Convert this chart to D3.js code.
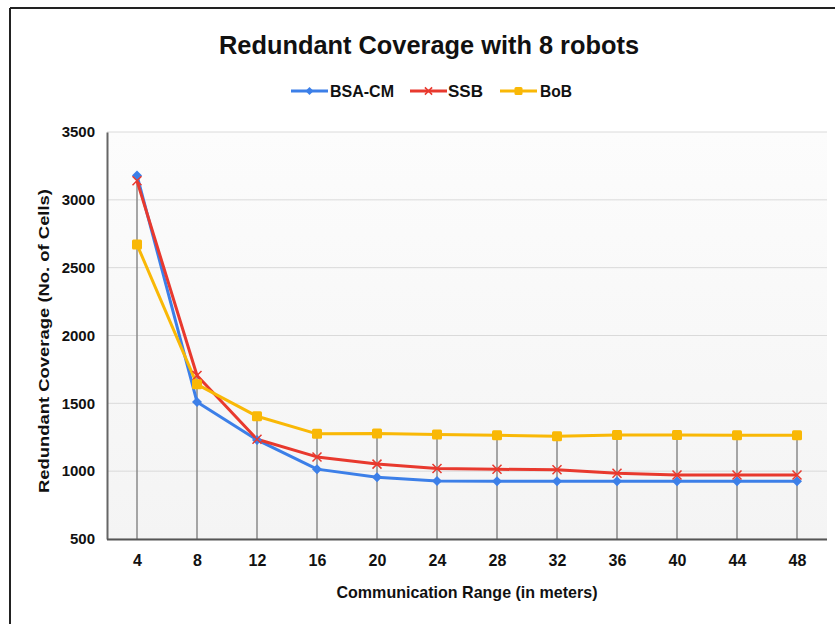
<!DOCTYPE html>
<html>
<head>
<meta charset="utf-8">
<script src="https://cdn.jsdelivr.net/npm/d3@7"></script>
<style>
  body { margin: 0; background: #ffffff; }
  svg { display: block; }
  text { font-family: "Liberation Sans", Arial, sans-serif; font-weight: bold; fill: #111; }
</style>
</head>
<body>
<svg id="chart" width="835" height="624"></svg>
<script>
const ranges = ["4","8","12","16","20","24","28","32","36","40","44","48"];
const bsaCm = [3180, 1510, 1230, 1015, 955, 928, 925, 925, 925, 925, 925, 925];
const ssb   = [3140, 1705, 1235, 1105, 1052, 1020, 1014, 1010, 985, 972, 972, 972];
const bob   = [2670, 1640, 1405, 1275, 1278, 1270, 1265, 1258, 1266, 1266, 1265, 1265];
const yTicks = [500, 1000, 1500, 2000, 2500, 3000, 3500];
const seriesNames = ["BSA-CM", "SSB", "BoB"];
const seriesColors = ["#3c7fe8", "#e8392e", "#f9b806"];

(function () {
const series = [
  {name: seriesNames[0], values: bsaCm, color: seriesColors[0], marker: "diamond"},
  {name: seriesNames[1], values: ssb, color: seriesColors[1], marker: "cross"},
  {name: seriesNames[2], values: bob, color: seriesColors[2], marker: "square"}
];

const svg = d3.select("#chart");
const W = 835, H = 624;
const pL = 107, pR = 827, pT = 132, pB = 539;

// frame
svg.append("rect").attr("x", 0).attr("y", 0).attr("width", W).attr("height", H).attr("fill", "#fff");
svg.append("line").attr("x1", 10).attr("x2", W).attr("y1", 8).attr("y2", 8).attr("stroke", "#222").attr("stroke-width", 2);
svg.append("line").attr("x1", 10).attr("x2", 10).attr("y1", 8).attr("y2", H).attr("stroke", "#222").attr("stroke-width", 2);

const defs = svg.append("defs");
const grad = defs.append("linearGradient").attr("id", "bg").attr("x1", "0").attr("y1", "0").attr("x2", "0").attr("y2", "1");
grad.append("stop").attr("offset", "0%").attr("stop-color", "#fcfcfc");
grad.append("stop").attr("offset", "100%").attr("stop-color", "#f4f4f4");

svg.append("rect").attr("x", pL).attr("y", pT).attr("width", pR - pL).attr("height", pB - pT).attr("fill", "url(#bg)");

const x = d3.scalePoint().domain(ranges).range([pL, pR]).padding(0.5);
const y = d3.scaleLinear().domain([500, 3500]).range([pB, pT]);

// gridlines
svg.append("g").selectAll("line").data(yTicks).join("line")
  .attr("x1", pL).attr("x2", pR)
  .attr("y1", d => y(d)).attr("y2", d => y(d))
  .attr("stroke", "#dadada").attr("stroke-width", 1);

// drop lines
svg.append("g").selectAll("line").data(ranges).join("line")
  .attr("x1", d => x(d)).attr("x2", d => x(d))
  .attr("y1", (d, i) => y(Math.max(bsaCm[i], ssb[i], bob[i])))
  .attr("y2", pB)
  .attr("stroke", "#8a8a8a").attr("stroke-width", 1.5);

// axes
const yAxis = svg.append("g").attr("transform", `translate(${pL},0)`)
  .call(d3.axisLeft(y).tickValues(yTicks).tickSize(0).tickPadding(12).tickFormat(d3.format("d")));
yAxis.select(".domain").attr("stroke", "#666").attr("stroke-width", 2);
yAxis.selectAll("text").attr("font-size", 15).attr("font-weight", "bold").attr("fill", "#111")
  .style("font-family", "'Liberation Sans', Arial, sans-serif");

const xAxis = svg.append("g").attr("transform", `translate(0,${pB})`)
  .call(d3.axisBottom(x).tickSize(0).tickPadding(16));
xAxis.select(".domain").attr("d", `M${pL},0.5H${pR}`).attr("stroke", "#555").attr("stroke-width", 2);
xAxis.selectAll("text").attr("font-size", 16).attr("font-weight", "bold").attr("fill", "#111")
  .style("font-family", "'Liberation Sans Narrow', 'Liberation Sans', Arial, sans-serif");

// lines
const line = d3.line().x((d, i) => x(ranges[i])).y(d => y(d));
series.forEach(s => {
  svg.append("path").datum(s.values).attr("d", line)
    .attr("fill", "none").attr("stroke", s.color).attr("stroke-width", 3).attr("stroke-linejoin", "round");
});

function drawMarker(g, type, cx, cy, color, sc) {
  sc = sc || 1;
  if (type === "diamond") {
    const r = 5 * sc;
    g.append("path").attr("d", `M${cx},${cy - r}L${cx + r},${cy}L${cx},${cy + r}L${cx - r},${cy}Z`).attr("fill", color);
  } else if (type === "square") {
    const r = 5 * sc;
    g.append("rect").attr("x", cx - r).attr("y", cy - r).attr("width", 2 * r).attr("height", 2 * r).attr("rx", 1.5).attr("fill", color);
  } else {
    const r = 4.5 * sc;
    g.append("path").attr("d", `M${cx - r},${cy - r}L${cx + r},${cy + r}M${cx - r},${cy + r}L${cx + r},${cy - r}`)
      .attr("stroke", color).attr("stroke-width", 1.5).attr("fill", "none");
  }
}

series.forEach(s => {
  const g = svg.append("g");
  s.values.forEach((v, i) => drawMarker(g, s.marker, x(ranges[i]), y(v), s.color));
});

// title
svg.append("text").attr("x", 429).attr("y", 54).attr("text-anchor", "middle")
  .attr("font-size", 26).attr("textLength", 420).attr("lengthAdjust", "spacingAndGlyphs")
  .text("Redundant Coverage with 8 robots");

// legend
const legendItems = [
  {x0: 291, tx: 330, tw: 64},
  {x0: 410, tx: 448, tw: 35},
  {x0: 500, tx: 540, tw: 32}
];
series.forEach((s, i) => {
  const L = legendItems[i];
  const g = svg.append("g");
  g.append("line").attr("x1", L.x0).attr("x2", L.x0 + 37).attr("y1", 91).attr("y2", 91)
    .attr("stroke", s.color).attr("stroke-width", 3);
  drawMarker(g, s.marker, L.x0 + 18.5, 91, s.color, 0.8);
  g.append("text").attr("x", L.tx).attr("y", 97).attr("font-size", 16)
    .attr("textLength", L.tw).attr("lengthAdjust", "spacingAndGlyphs").text(s.name);
});

// axis titles
svg.append("text").attr("x", 467).attr("y", 598).attr("text-anchor", "middle")
  .attr("font-size", 17).attr("textLength", 261).attr("lengthAdjust", "spacingAndGlyphs")
  .text("Communication Range (in meters)");

svg.append("text").attr("transform", "translate(49,341) rotate(-90)").attr("text-anchor", "middle")
  .attr("font-size", 15).attr("textLength", 304).attr("lengthAdjust", "spacingAndGlyphs")
  .text("Redundant Coverage (No. of Cells)");
})();
</script>
</body>
</html>
